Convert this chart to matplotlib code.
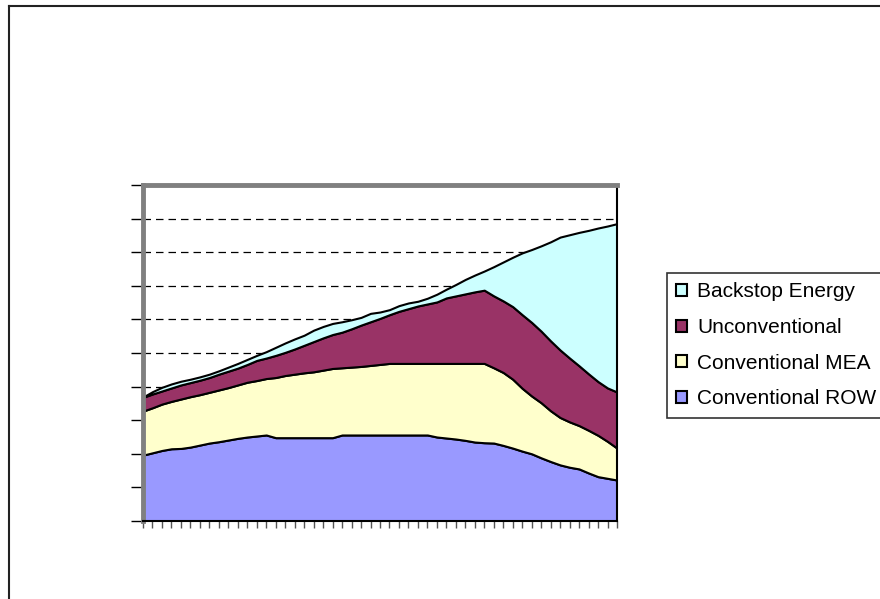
import matplotlib
matplotlib.use("Agg")
import matplotlib.pyplot as plt
import numpy as np
from matplotlib.lines import Line2D

plt.rcParams["font.family"] = ["Liberation Sans", "DejaVu Sans"]

# 51 periods on the category axis (no labels shown)
periods = np.arange(51)

labels = ["Conventional ROW", "Conventional MEA", "Unconventional", "Backstop Energy"]
colors = ["#9999FF", "#FFFFCC", "#993366", "#CCFFFF"]

conv_row = [1.96, 2.03, 2.10, 2.15, 2.16, 2.20, 2.26, 2.32, 2.36, 2.41,
            2.46, 2.50, 2.53, 2.56, 2.48, 2.48, 2.48, 2.48, 2.48, 2.48,
            2.48, 2.56, 2.56, 2.56, 2.56, 2.56, 2.56, 2.56, 2.56, 2.56,
            2.56, 2.50, 2.47, 2.44, 2.40, 2.35, 2.33, 2.32, 2.25, 2.17,
            2.08, 2.00, 1.88, 1.77, 1.67, 1.60, 1.55, 1.43, 1.32, 1.27,
            1.22]
conv_mea = [1.31, 1.34, 1.38, 1.41, 1.47, 1.50, 1.50, 1.51, 1.54, 1.56,
            1.59, 1.63, 1.65, 1.68, 1.79, 1.85, 1.89, 1.93, 1.96, 2.01,
            2.06, 2.00, 2.02, 2.04, 2.07, 2.10, 2.13, 2.13, 2.13, 2.13,
            2.13, 2.19, 2.22, 2.25, 2.29, 2.34, 2.36, 2.24, 2.17, 2.05,
            1.87, 1.72, 1.64, 1.51, 1.41, 1.35, 1.29, 1.27, 1.23, 1.10,
            0.95]
unconventional = [0.41, 0.41, 0.39, 0.40, 0.42, 0.42, 0.43, 0.44, 0.47, 0.49,
                  0.50, 0.53, 0.60, 0.61, 0.66, 0.69, 0.75, 0.82, 0.90, 0.96,
                  1.01, 1.06, 1.14, 1.23, 1.30, 1.37, 1.45, 1.55, 1.63, 1.71,
                  1.77, 1.83, 1.95, 2.01, 2.07, 2.13, 2.18, 2.14, 2.13, 2.16,
                  2.19, 2.19, 2.13, 2.08, 2.01, 1.90, 1.78, 1.68, 1.60, 1.59,
                  1.67]
backstop = [0.01, 0.07, 0.11, 0.12, 0.11, 0.10, 0.10, 0.10, 0.10, 0.12,
            0.14, 0.15, 0.15, 0.19, 0.24, 0.28, 0.30, 0.30, 0.34, 0.34,
            0.33, 0.31, 0.27, 0.23, 0.25, 0.19, 0.15, 0.17, 0.17, 0.14,
            0.17, 0.23, 0.26, 0.34, 0.43, 0.50, 0.57, 0.87, 1.16, 1.47,
            1.84, 2.17, 2.54, 2.95, 3.36, 3.67, 3.97, 4.27, 4.57, 4.82,
            5.01]

fig = plt.figure(figsize=(8.8, 5.99), dpi=100)
ax = fig.add_axes([143/880, 1-521/599, (617-143)/880, (521-185)/599])

# dashed gridlines behind the areas
for yv in range(1, 10):
    ax.axhline(yv, color="black", lw=0.9, ls=(0, (6, 4)), zorder=0)

polys = ax.stackplot(periods, conv_row, conv_mea, unconventional, backstop,
                     colors=colors, labels=labels, edgecolor="black",
                     linewidth=1.5, zorder=2)

ax.set_xlim(0, 50)
ax.set_ylim(0, 10)
ax.set_xticks(periods)
ax.set_yticks(range(11))
ax.set_xticklabels([])
ax.set_yticklabels([])
ax.tick_params(axis="y", direction="out", length=9, width=1, color="black")
ax.tick_params(axis="x", direction="out", length=5, width=1, color="#555555")

for side in ["left", "top"]:
    ax.spines[side].set_color("#808080")
    ax.spines[side].set_linewidth(3.5)
for side in ["right", "bottom"]:
    ax.spines[side].set_color("black")
    ax.spines[side].set_linewidth(1.5)

handles, labs = ax.get_legend_handles_labels()
leg = fig.legend(handles[::-1], labs[::-1], loc="upper left",
                 bbox_to_anchor=(667/880, 1-273/599), frameon=True,
                 fontsize=15, handlelength=0.5, handleheight=0.5,
                 handletextpad=0.5, labelspacing=0.8, borderpad=0.45,
                 fancybox=False, borderaxespad=0)
leg.get_frame().set_edgecolor("black")
leg.get_frame().set_linewidth(1.2)

# outer chart border (right and bottom fall outside the picture)
fig.add_artist(Line2D([8.5/880, 8.5/880], [0, 1-5.5/599], color="#222222", lw=1.5))
fig.add_artist(Line2D([8.5/880, 1], [1-5.5/599, 1-5.5/599], color="#222222", lw=1.5))

fig.savefig("out.png", dpi=100)
